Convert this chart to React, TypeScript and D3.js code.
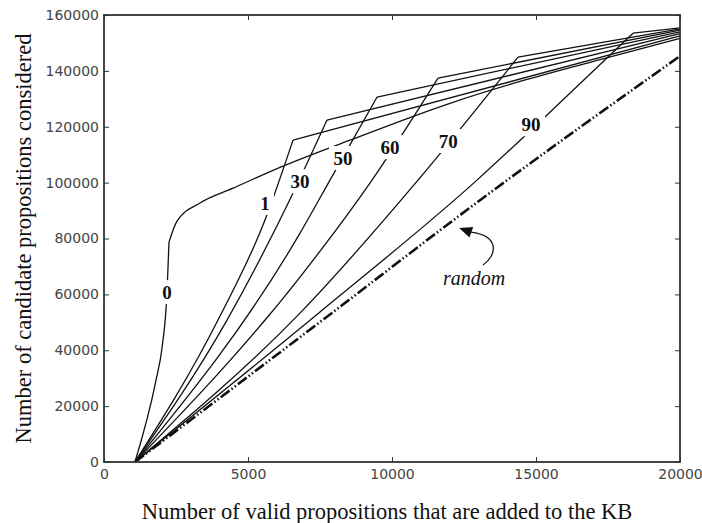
import { useEffect, useRef } from "react";
import * as d3 from "d3";

const W = 702;
const H = 523;

const xTicks = [0, 5000, 10000, 15000, 20000];
const yTicks = [0, 20000, 40000, 60000, 80000, 100000, 120000, 140000, 160000];

// each run: a steep rise up to the knee, then a slow part to the end
const rise0 = [[1076, 0], [1806, 29300], [2014, 40800], [2188, 60800], [2257, 78700]];
const slow0 = [[2257, 78700], [2535, 86200], [3333, 92700], [4479, 98000], [6215, 105900], [8542, 115200], [12014, 128400], [14444, 136200], [17222, 144000], [20000, 151600]];
const rise1 = [[1076, 0], [3958, 50800], [5590, 86600], [6563, 115200]];
const rise30 = [[1076, 0], [4271, 50800], [6528, 95500], [7743, 122400]];
const rise50 = [[1076, 0], [6806, 81900], [7847, 100900], [9479, 130600]];
const rise60 = [[1076, 0], [6806, 66200], [9306, 100900], [11597, 137400]];
const rise70 = [[1076, 0], [6806, 53300], [10903, 100900], [14375, 144900]];
const rise90 = [[1076, 0], [7500, 53700], [12951, 100900], [15382, 124200], [18368, 153500]];
const endValues = [151600, 152500, 153300, 154000, 154600, 155000, 155400];
const randomRun = [[1076, 0], [7500, 50100], [13055, 93700], [20000, 145300]];

const runNames = ["0", "1", "30", "50", "60", "70", "90"];
const labelX = [2188, 5590, 6806, 8299, 9931, 11950, 14826];
const labelY = [60800, 92700, 100500, 108800, 112700, 114900, 120900];

const App = () => {
  const ref = useRef(null);

  useEffect(() => {
    const svg = d3.select(ref.current);
    svg.selectAll("*").remove();

    const m = { left: 104, right: 22, top: 15, bottom: 61 };
    const x = d3.scaleLinear().domain([0, 20000]).range([m.left, W - m.right]);
    const y = d3.scaleLinear().domain([0, 160000]).range([H - m.bottom, m.top]);

    const smooth = d3.line().x(d => x(d[0])).y(d => y(d[1])).curve(d3.curveMonotoneX);
    const straight = d3.line().x(d => x(d[0])).y(d => y(d[1]));

    svg.append("rect").attr("width", W).attr("height", H).attr("fill", "#fff");

    const rises = [rise0, rise1, rise30, rise50, rise60, rise70, rise90];
    const g = svg.append("g");

    rises.forEach((r, i) => {
      g.append("path")
        .attr("d", smooth(r))
        .attr("fill", "none")
        .attr("stroke", "#111")
        .attr("stroke-width", 1.3);
      const knee = r[r.length - 1];
      const rest = i === 0 ? slow0 : [knee, [20000, endValues[i]]];
      g.append("path")
        .attr("d", i === 0 ? smooth(rest) : straight(rest))
        .attr("fill", "none")
        .attr("stroke", "#111")
        .attr("stroke-width", 1.3);
    });

    g.append("path")
      .attr("d", smooth(randomRun))
      .attr("fill", "none")
      .attr("stroke", "#111")
      .attr("stroke-width", 2.6)
      .attr("stroke-dasharray", "11,2.5,1.5,2.5,1.5,2.5");

    // run labels sit on the lines with a white gap
    runNames.forEach((name, i) => {
      const cx = x(labelX[i]);
      const cy = y(labelY[i]);
      const w = name.length * 10 + 8;
      g.append("rect")
        .attr("x", cx - w / 2)
        .attr("y", cy - 12)
        .attr("width", w)
        .attr("height", 24)
        .attr("fill", "#fff");
      g.append("text")
        .attr("x", cx)
        .attr("y", cy)
        .attr("dy", "0.35em")
        .attr("text-anchor", "middle")
        .style("font-family", "'Liberation Serif', serif")
        .style("font-weight", "bold")
        .style("font-size", "19px")
        .attr("fill", "#111")
        .text(name);
    });

    // "random" note with curved arrow
    g.append("text")
      .attr("x", x(12850))
      .attr("y", y(65500))
      .attr("dy", "0.3em")
      .attr("text-anchor", "middle")
      .style("font-family", "'Liberation Serif', serif")
      .style("font-style", "italic")
      .style("font-size", "20px")
      .attr("fill", "#111")
      .text("random");

    const tail = [x(13160), y(70500)];
    const c1 = [x(13650), y(74000)];
    const c2 = [x(13750), y(81000)];
    const end = [x(12740), y(82300)];
    g.append("path")
      .attr("d", `M${tail}C${c1} ${c2} ${end}`)
      .attr("fill", "none")
      .attr("stroke", "#111")
      .attr("stroke-width", 1.3);
    const tip = [x(12330), y(83800)];
    const ang = Math.atan2(tip[1] - end[1], tip[0] - end[0]);
    const back = [tip[0] - 13 * Math.cos(ang), tip[1] - 13 * Math.sin(ang)];
    const nx = -Math.sin(ang) * 5.5;
    const ny = Math.cos(ang) * 5.5;
    g.append("path")
      .attr("d", `M${tip}L${back[0] + nx},${back[1] + ny}L${back[0] - nx},${back[1] - ny}Z`)
      .attr("fill", "#111");

    // axes: inward ticks on all four sides
    const tickFont = (sel) => sel.selectAll("text")
      .style("font-family", "'DejaVu Sans', sans-serif")
      .style("font-size", "14px")
      .attr("fill", "#444");

    svg.append("g")
      .attr("transform", `translate(0,${H - m.bottom})`)
      .call(d3.axisBottom(x).tickValues(xTicks).tickSizeInner(-5).tickSizeOuter(0).tickPadding(7).tickFormat(d3.format("d")))
      .call(a => a.select(".domain").remove())
      .call(tickFont);
    svg.append("g")
      .attr("transform", `translate(${m.left},0)`)
      .call(d3.axisLeft(y).tickValues(yTicks).tickSizeInner(-5).tickSizeOuter(0).tickPadding(5).tickFormat(d3.format("d")))
      .call(a => a.select(".domain").remove())
      .call(tickFont);
    svg.append("g")
      .attr("transform", `translate(0,${m.top})`)
      .call(d3.axisTop(x).tickValues(xTicks).tickSizeInner(-5).tickSizeOuter(0).tickFormat(() => ""))
      .call(a => a.select(".domain").remove());
    svg.append("g")
      .attr("transform", `translate(${W - m.right},0)`)
      .call(d3.axisRight(y).tickValues(yTicks).tickSizeInner(-5).tickSizeOuter(0).tickFormat(() => ""))
      .call(a => a.select(".domain").remove());
    svg.selectAll(".tick line").attr("stroke", "#333");

    svg.append("rect")
      .attr("x", m.left)
      .attr("y", m.top)
      .attr("width", W - m.left - m.right)
      .attr("height", H - m.top - m.bottom)
      .attr("fill", "none")
      .attr("stroke", "#333")
      .attr("stroke-width", 1.8);

    svg.append("text")
      .attr("x", (m.left + W - m.right) / 2 - 5)
      .attr("y", 511)
      .attr("dy", "0.35em")
      .attr("text-anchor", "middle")
      .style("font-family", "'Liberation Serif', serif")
      .style("font-size", "22.5px")
      .attr("fill", "#111")
      .text("Number of valid propositions that are added to the KB");

    svg.append("text")
      .attr("transform", `translate(23,${(m.top + H - m.bottom) / 2}) rotate(-90)`)
      .attr("dy", "0.35em")
      .attr("text-anchor", "middle")
      .style("font-family", "'Liberation Serif', serif")
      .style("font-size", "22.5px")
      .attr("fill", "#111")
      .text("Number of candidate propositions considered");
  }, []);

  return (
    <svg ref={ref} width={W} height={H} style={{ position: "absolute", left: 0, top: 0 }}></svg>
  );
};

export default App;
